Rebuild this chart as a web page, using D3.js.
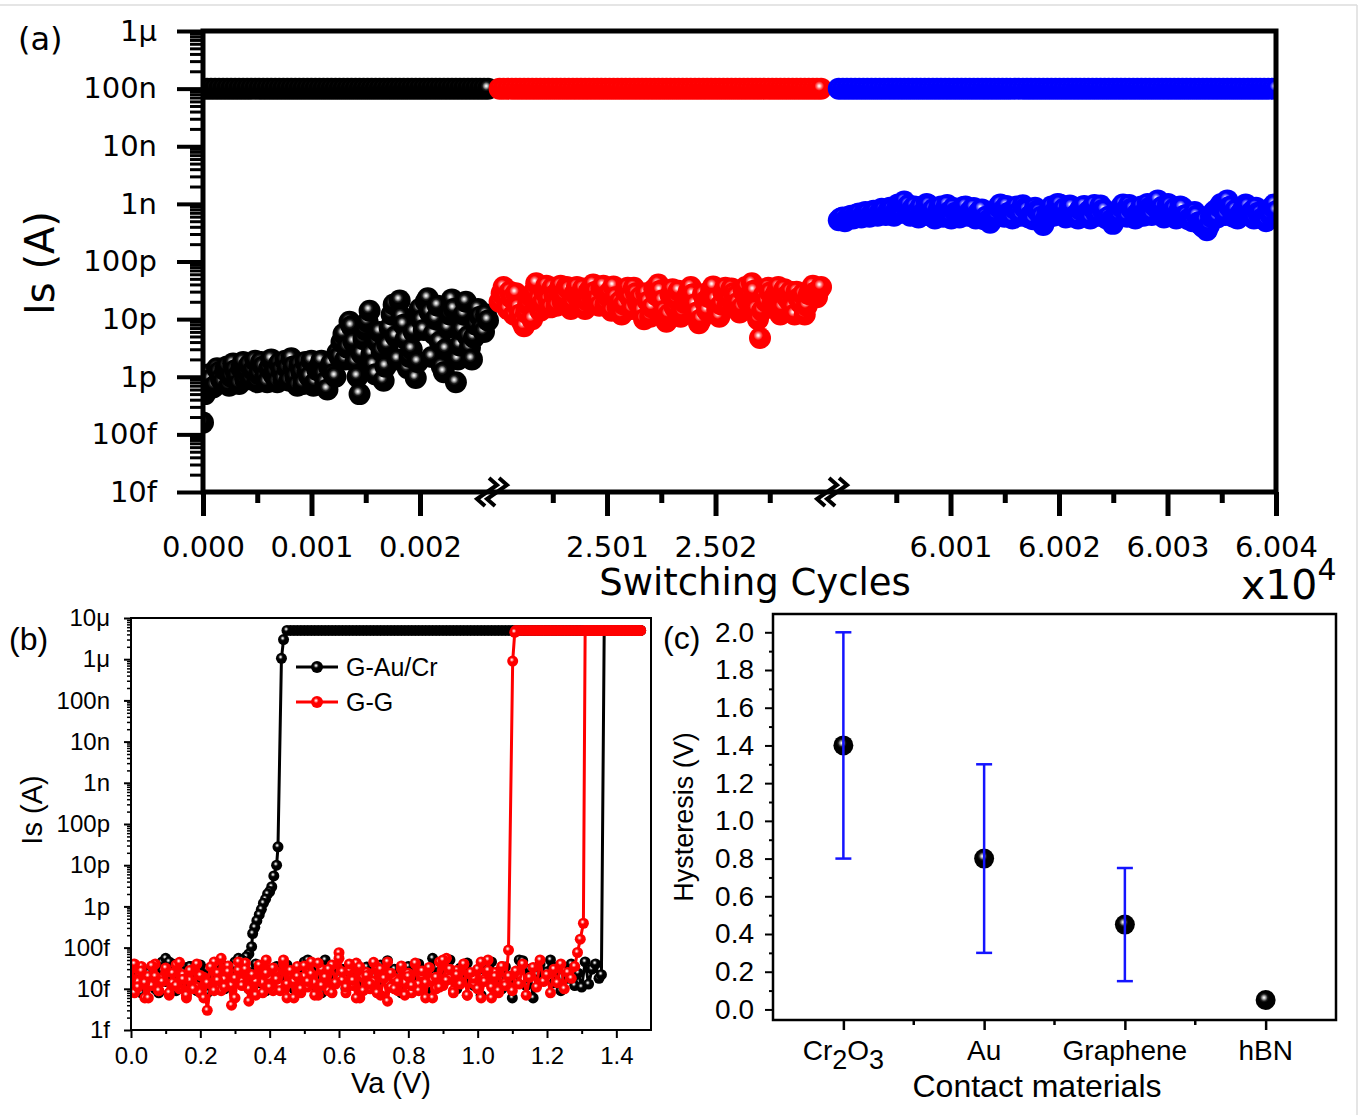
<!DOCTYPE html>
<html>
<head>
<meta charset="utf-8">
<script src="https://cdn.jsdelivr.net/npm/d3@7"></script>
<style>
  body { margin: 0; background: #fff; }
  svg { display: block; }
</style>
</head>
<body>
<svg id="fig" width="1369" height="1115"></svg>
<script>
// ---------------- (a) switching cycles, x in units of 1e4 cycles ----------------
const segDomains = [[0, 0.002664], [2.49994, 2.503074], [5.999908, 6.004]];
const segMajor = [[0, 0.001, 0.002], [2.501, 2.502], [6.001, 6.002, 6.003, 6.004]];
const segMinor = [[0.0005, 0.0015], [2.5005, 2.5015, 2.5025], [6.0005, 6.0015, 6.0025, 6.0035]];
const yTicksA = [1e-14, 1e-13, 1e-12, 1e-11, 1e-10, 1e-9, 1e-8, 1e-7, 1e-6];
const yLabelsA = ["10f", "100f", "1p", "10p", "100p", "1n", "10n", "100n", "1μ"];

// first reading and spacing of the ON / OFF readings in each segment
const cycStart = [0, 2.50001, 5.99997];
const onStep = [0.000037, 0.0000375, 0.0000377];
const offStep = [0.0000185, 0.00001875, 0.00001885];

// ON state (nA) and OFF state (pA) readings
const onBlack_nA = [
  100,100,100,100,100,100,100,100,100,100,100,100,100,100,100,100,100,100,100,100,
  100,100,100,100,100,100,100,100,100,100,100,100,100,100,100,100,100,100,100,100,
  100,100,100,100,100,100,100,100,100,100,100,100,100,100,100,100,100,100,100,100,
  100,100,100,100,100,100,100,100,100,100,100,100];
const offBlack_pA = [
  0.16, 0.5, 0.6, 1.1, 0.9, 0.65, 0.7, 1.4, 1.2, 0.9, 0.8, 1.3, 1.5, 0.7, 1.0, 1.7, 1.3, 1.0, 0.75, 1.4,
  1.8, 0.9, 1.2, 1.6, 0.9, 1.3, 1.9, 0.8, 1.1, 1.8, 1.5, 1.0, 0.8, 1.4, 2.0, 1.1, 1.2, 0.8, 1.7, 1.3,
  0.9, 1.9, 1.4, 0.85, 2.1, 1.5, 1.0, 0.7, 1.6, 1.2, 0.75, 1.8, 1.3, 1.0, 1.9, 0.7, 0.8, 1.3, 1.5, 1.9,
  1.1, 0.8, 0.6, 1.4, 1.7, 1.1, 1.0, 2.6, 2.2, 4.0, 5.5, 2.0, 3.2, 9.0, 7.5, 4.0, 1.8, 1.0, 0.5, 2.5,
  4.5, 6.5, 9.0, 14, 2.5, 1.6, 1.1, 4.0, 6.0, 2.8, 0.85, 1.5, 3.5, 7.0, 12, 18, 5.0, 2.0, 21, 11,
  8.0, 4.5, 1.4, 2.2, 3.0, 6.0, 0.95, 1.8, 15, 9.5, 6.5, 20, 23, 13, 2.2, 5.5, 10, 17, 4.0, 1.5,
  1.2, 3.0, 7.0, 12, 22, 15, 0.8, 2.0, 3.5, 6.5, 12, 20, 5.0, 3.2, 2.0, 4.8, 8.0, 15, 11, 7.0,
  6.0, 12, 9.5];

const onRed_nA = [
  100,100,100,100,100,100,100,100,100,100,100,100,100,100,100,100,100,100,100,100,
  100,100,100,100,100,100,100,100,100,100,100,100,100,100,100,100,100,100,100,100,
  100,100,100,100,100,100,100,100,100,100,100,100,100,100,100,100,100,100,100,100,
  100,100,100,100,100,100,100,100,100,100,100,100,100,100,100,100,100,100,100,100];
const offRed_pA = [
  20, 28, 36, 24, 15, 30, 23, 12, 28, 16, 12, 9, 7.5, 13, 18, 25, 10, 30, 42, 22,
  14, 19, 30, 38, 22, 16, 35, 26, 17, 31, 38, 20, 25, 36, 33, 15, 19, 28, 36, 22,
  27, 34, 15, 21, 31, 26, 40, 30, 22, 17, 34, 38, 18, 25, 29, 14, 37, 24, 16, 20,
  12, 18, 30, 35, 24, 15, 35, 28, 19, 24, 14, 10, 28, 20, 11, 16, 33, 26, 40, 31,
  21, 14, 9, 12, 26, 33, 16, 22, 31, 11, 13, 19, 24, 30, 36, 27, 18, 13, 8.5, 10,
  27, 20, 14, 24, 32, 37, 22, 15, 11, 18, 29, 35, 17, 23, 34, 28, 25, 19, 13, 16,
  30, 36, 20, 26, 42, 31, 15, 10, 4.7, 14, 26, 20, 35, 29, 18, 24, 28, 36, 12, 16,
  33, 25, 22, 30, 16, 12, 30, 23, 19, 27, 12, 17, 27, 33, 38, 29, 24, 32, 36];

const onBlue_nA = [
  100,100,100,100,100,100,100,100,100,100,100,100,100,100,100,100,100,100,100,100,
  100,100,100,100,100,100,100,100,100,100,100,100,100,100,100,100,100,100,100,100,
  100,100,100,100,100,100,100,100,100,100,100,100,100,100,100,100,100,100,100,100,
  100,100,100,100,100,100,100,100,100,100,100,100,100,100,100,100,100,100,100,100,
  100,100,100,100,100,100,100,100,100,100,100,100,100,100,100,100,100,100,100,100,
  100,100,100,100,100,100,100,100];
const offBlue_pA = [
  520, 560, 580, 500, 540, 600, 620, 560, 600, 660, 680, 580, 640, 720, 700, 600, 660, 760, 740, 620,
  700, 820, 780, 640, 720, 860, 800, 620, 750, 980, 900, 700, 1100, 850, 950, 620, 820, 900, 700, 580,
  880, 640, 760, 1000, 950, 620, 800, 560, 680, 840, 900, 600, 780, 960, 720, 560, 850, 700, 650, 580,
  780, 880, 900, 620, 720, 800, 850, 560, 680, 760, 800, 540, 600, 520, 470, 560, 700, 620, 880, 980,
  760, 600, 920, 700, 680, 560, 820, 900, 720, 620, 950, 840, 780, 580, 650, 540, 860, 760, 720, 600,
  430, 520, 680, 760, 900, 620, 760, 1000, 980, 700, 820, 580, 700, 940, 880, 600, 640, 560, 800, 880,
  920, 620, 740, 560, 860, 960, 680, 620, 940, 780, 780, 560, 600, 520, 450, 560, 700, 620, 880, 980,
  760, 600, 960, 820, 820, 560, 680, 740, 900, 620, 740, 1000, 860, 640, 960, 880, 1150, 700, 880, 580,
  760, 1000, 940, 640, 820, 560, 700, 900, 860, 620, 640, 540, 560, 500, 720, 620, 480, 440, 400, 520,
  350, 420, 600, 700, 760, 580, 880, 1000, 980, 640, 1150, 880, 900, 600, 780, 560, 650, 720, 820, 980,
  900, 620, 740, 560, 860, 700, 680, 560, 550, 500, 780, 640, 880, 980, 750];

// ---------------- (b) I-V sweeps, currents in fA ----------------
const yTicksB = [1e-15, 1e-14, 1e-13, 1e-12, 1e-11, 1e-10, 1e-9, 1e-8, 1e-7, 1e-6, 1e-5];
const yLabelsB = ["1f", "10f", "100f", "1p", "10p", "100p", "1n", "10n", "100n", "1μ", "10μ"];
const xTicksB = [0, 0.2, 0.4, 0.6, 0.8, 1.0, 1.2, 1.4];
const xMinorB = [0.1, 0.3, 0.5, 0.7, 0.9, 1.1, 1.3];

// G-Au/Cr
const gauFwdNoise = [ // V = 0.00 .. 1.35
  25,12,30,8,20,15,35,10,22,45, 55,18,40,9,28,14,33,35,12,24,
  16,30,8,22,38,11,26,14,32,20, 45,55,18,30,10,25,40,14,20,9,
  28,15,35,12,22,38,18,10,30,16, 45,50,20,12,32,8,50,24,14,36,
  18,30,10,26,15,40,9,22,34,12, 20,14,38,25,48,11,30,16,8,28,
  35,12,22,40,15,9,30,55,18,26, 14,38,50,20,10,32,16,42,24,12,
  28,7,36,18,45,14,26,10,34,20, 6,15,50,48,12,30,6,22,40,16,
  26,50,14,34,9,28,18,40,12,24, 11,45,13,30,40,18];
const gauFwdSwitch = [[1.357, 22], [1.365, 5e9]];
const gauFwdOn = [5e9,5e9,5e9,5e9,5e9,5e9,5e9,5e9,5e9,5e9,5e9]; // V = 1.37 .. 1.47
const gauRevOn = [ // V = 1.47 .. 0.45
  5e9,5e9,5e9,5e9,5e9,5e9,5e9,5e9,5e9,5e9, 5e9,5e9,5e9,5e9,5e9,5e9,5e9,5e9,5e9,5e9,
  5e9,5e9,5e9,5e9,5e9,5e9,5e9,5e9,5e9,5e9, 5e9,5e9,5e9,5e9,5e9,5e9,5e9,5e9,5e9,5e9,
  5e9,5e9,5e9,5e9,5e9,5e9,5e9,5e9,5e9,5e9, 5e9,5e9,5e9,5e9,5e9,5e9,5e9,5e9,5e9,5e9,
  5e9,5e9,5e9,5e9,5e9,5e9,5e9,5e9,5e9,5e9, 5e9,5e9,5e9,5e9,5e9,5e9,5e9,5e9,5e9,5e9,
  5e9,5e9,5e9,5e9,5e9,5e9,5e9,5e9,5e9,5e9, 5e9,5e9,5e9,5e9,5e9,5e9,5e9,5e9,5e9,5e9,
  5e9,5e9,5e9];
const gauRevSwitch = [[0.44, 3.0e9], [0.434, 1.05e9], [0.424, 2.8e4], [0.42, 1.0e4], [0.412, 5.5e3],
  [0.406, 3.0e3], [0.4, 2.3e3], [0.394, 2.0e3], [0.388, 1.5e3], [0.382, 1.2e3], [0.376, 850],
  [0.37, 630], [0.363, 450], [0.357, 310], [0.351, 220], [0.348, 105], [0.34, 70], [0.333, 60]];
const gauRevNoise = [ // V = 0.32 .. 0.00
  50,20,35,14,28,10,40,18,25,12, 30,16,38,9,22,35,14,26,11,32, 20,45,15,28,8,36,18,24,12,30, 22,35,16];

// G-G
const ggFwdNoise = [ // V = 0.00 .. 1.28
  30,8,15,35,6,20,12,40,9,18, 25,7,14,38,10,22,6,16,30,11,
  8,19,3,13,45,24,9,17,36,12, 6,28,15,42,10,20,7,33,14,50,
  18,9,26,12,40,6,22,15,35,8, 20,11,45,14,7,30,17,9,38,13,
  75,16,8,28,12,42,6,19,25,10, 15,33,7,21,45,11,18,9,30,14,
  24,8,40,13,20,6,32,16,10,45, 12,55,18,9,28,15,40,7,22,13,
  30,6,17,50,11,25,8,35,14,20, 9,27,13,40,7,19,33,11,50,15,
  22,8,30,14,40,10,25,18,35];
const ggFwdSwitch = [[1.288, 76], [1.296, 160], [1.305, 390], [1.31, 5e9]];
const ggFwdOn = [5e9,5e9,5e9,5e9,5e9,5e9,5e9,5e9,5e9,5e9,5e9,5e9,5e9,5e9,5e9,5e9]; // V = 1.32 .. 1.47
const ggRevOn = [ // V = 1.47 .. 1.11
  5e9,5e9,5e9,5e9,5e9,5e9,5e9,5e9,5e9,5e9, 5e9,5e9,5e9,5e9,5e9,5e9,5e9,5e9,5e9,5e9,
  5e9,5e9,5e9,5e9,5e9,5e9,5e9,5e9,5e9,5e9, 5e9,5e9,5e9,5e9,5e9,5e9,5e9];
const ggRevSwitch = [[1.107, 4.5e9], [1.101, 9e8], [1.089, 87]];
const ggRevNoise = [ // V = 1.08 .. 0.00
  12,35,9,20,6,28,15,45,10,18, 25,7,40,13,22,8,30,16,50,11,
  19,6,33,14,27,9,42,12,20,7, 36,15,10,24,5,18,30,8,44,13,
  21,9,34,6,16,40,11,26,55,14, 8,30,19,12,42,7,23,15,36,10,
  20,6,28,13,50,9,17,32,11,24, 8,38,15,22,5,30,12,45,18,4,
  26,11,55,16,9,34,14,6,21,40, 10,28,7,17,44,12,24,8,32,15,
  9,20,36,6,14,27,11,40,18];

// ---------------- (c) hysteresis by contact material ----------------
const materials = ["Cr2O3", "Au", "Graphene", "hBN"];
const hysteresis = [1.40, 0.80, 0.45, 0.05];
const hystLow = [0.80, 0.30, 0.15, null];
const hystHigh = [2.00, 1.30, 0.75, null];
const yTicksC = [0, 0.2, 0.4, 0.6, 0.8, 1.0, 1.2, 1.4, 1.6, 1.8, 2.0];
const yMinorC = [0.1, 0.3, 0.5, 0.7, 0.9, 1.1, 1.3, 1.5, 1.7, 1.9];

// ---------------- drawing ----------------
const svg = d3.select("#fig");
const defs = svg.append("defs");
const fontA = "DejaVu Sans, Verdana, sans-serif";
const fontB = "Liberation Sans, Arial, sans-serif";

// shaded ball markers
const balls = {
  ballK: [[0, "#ffffff"], [0.07, "#e0e0e0"], [0.18, "#8a8a8a"], [0.3, "#1c1c1c"], [0.42, "#000000"], [1, "#000000"]],
  ballR: [[0, "#ffffff"], [0.08, "#ffdada"], [0.2, "#ff7070"], [0.36, "#ff0000"], [1, "#ff0000"]],
  ballB: [[0, "#ffffff"], [0.08, "#dcdcff"], [0.2, "#7070ff"], [0.36, "#0000ff"], [1, "#0000ff"]]
};
Object.entries(balls).forEach(([id, stops]) => {
  const g = defs.append("radialGradient").attr("id", id)
    .attr("cx", 0.42).attr("cy", 0.38).attr("r", 0.6).attr("fx", 0.42).attr("fy", 0.38);
  stops.forEach(([o, c]) => g.append("stop").attr("offset", o).attr("stop-color", c));
});

function styleAxis(g, font, size, sw) {
  g.select(".domain").remove();
  g.attr("font-family", font).attr("font-size", size);
  g.selectAll(".tick line").attr("stroke", "#000").attr("stroke-width", sw);
  g.selectAll(".tick text").attr("fill", "#000");
}

// faint figure border
svg.append("line").attr("x1", 0).attr("x2", 1357).attr("y1", 5).attr("y2", 5)
  .attr("stroke", "#dcdcdc").attr("stroke-width", 1.5);
svg.append("line").attr("x1", 1357).attr("x2", 1357).attr("y1", 5).attr("y2", 1115)
  .attr("stroke", "#dcdcdc").attr("stroke-width", 1.5);

// ===== panel (a) =====
const A = { left: 203, right: 1276, top: 31, bottom: 492 };
const totalW = d3.sum(segDomains, d => d[1] - d[0]);
let acc = 0;
const xSegs = segDomains.map(d => {
  const x0 = A.left + acc / totalW * (A.right - A.left);
  acc += d[1] - d[0];
  const x1 = A.left + acc / totalW * (A.right - A.left);
  return d3.scaleLinear().domain(d).range([x0, x1]);
});
const yA = d3.scaleLog().domain([1e-14, 1e-6]).range([A.bottom, A.top]);

defs.append("clipPath").attr("id", "clipA").append("rect")
  .attr("x", A.left).attr("y", A.top).attr("width", A.right - A.left).attr("height", A.bottom - A.top);

const gA = svg.append("g");
const plotA = gA.append("g").attr("clip-path", "url(#clipA)");
const seriesA = [
  { k: 0, fill: "url(#ballK)", on: onBlack_nA, off: offBlack_pA },
  { k: 1, fill: "url(#ballR)", on: onRed_nA, off: offRed_pA },
  { k: 2, fill: "url(#ballB)", on: onBlue_nA, off: offBlue_pA }
];
seriesA.forEach(s => {
  const sx = xSegs[s.k];
  const g = plotA.append("g");
  g.selectAll("circle.on").data(s.on).join("circle").attr("class", "on")
    .attr("cx", (d, i) => sx(cycStart[s.k] + i * onStep[s.k])).attr("cy", d => yA(d * 1e-9))
    .attr("r", 11).attr("fill", s.fill);
  g.selectAll("circle.off").data(s.off).join("circle").attr("class", "off")
    .attr("cx", (d, i) => sx(cycStart[s.k] + i * offStep[s.k])).attr("cy", d => yA(d * 1e-12))
    .attr("r", 11).attr("fill", s.fill);
});

gA.append("rect").attr("x", A.left).attr("y", A.top)
  .attr("width", A.right - A.left).attr("height", A.bottom - A.top)
  .attr("fill", "none").attr("stroke", "#000").attr("stroke-width", 5);

const yMinorA = [];
yTicksA.slice(0, -1).forEach(t => { for (let m = 2; m <= 9; m++) yMinorA.push(t * m); });
gA.append("g").attr("transform", `translate(${A.left},0)`)
  .call(d3.axisLeft(yA).tickValues(yMinorA).tickFormat("").tickSize(13))
  .call(g => styleAxis(g, fontA, 29, 3));
gA.append("g").attr("transform", `translate(${A.left},0)`)
  .call(d3.axisLeft(yA).tickValues(yTicksA).tickFormat((d, i) => yLabelsA[i]).tickSize(26).tickPadding(20))
  .call(g => styleAxis(g, fontA, 29, 4));

xSegs.forEach((sc, k) => {
  gA.append("g").attr("transform", `translate(0,${A.bottom})`)
    .call(d3.axisBottom(sc).tickValues(segMinor[k]).tickFormat("").tickSize(11))
    .call(g => styleAxis(g, fontA, 29, 5));
  gA.append("g").attr("transform", `translate(0,${A.bottom})`)
    .call(d3.axisBottom(sc).tickValues(segMajor[k]).tickFormat(d3.format(".3f")).tickSize(24).tickPadding(20))
    .call(g => styleAxis(g, fontA, 29, 5));
});

// axis break marks
xSegs.slice(1).forEach(sc => {
  const bx = sc.range()[0];
  [-5, 5].forEach(off => {
    gA.append("path")
      .attr("d", d3.line()([[off + 2, -14], [off + 10, -7], [off, 0], [off - 10, 7], [off - 2, 14]]))
      .attr("transform", `translate(${bx},${A.bottom})`)
      .attr("fill", "none").attr("stroke", "#000").attr("stroke-width", 4);
  });
});

gA.append("text").attr("x", 18).attr("y", 50).attr("font-family", fontA).attr("font-size", 32).text("(a)");
gA.append("text").attr("transform", "translate(54,263) rotate(-90)").attr("text-anchor", "middle")
  .attr("font-family", fontA).attr("font-size", 40).text("Is (A)");
gA.append("text").attr("x", 755).attr("y", 595).attr("text-anchor", "middle")
  .attr("font-family", fontA).attr("font-size", 37).text("Switching Cycles");
const exp = gA.append("text").attr("x", 1241).attr("y", 599).attr("font-family", fontA).attr("font-size", 41);
exp.append("tspan").text("x10");
exp.append("tspan").attr("dy", -19).attr("font-size", 30).text("4");

// ===== panel (b) =====
const B = { left: 131, right: 651, top: 618, bottom: 1030 };
const xB = d3.scaleLinear().domain([0, 1.5]).range([B.left, B.right]);
const yB = d3.scaleLog().domain([1e-15, 1e-5]).range([B.bottom, B.top]);
defs.append("clipPath").attr("id", "clipB").append("rect")
  .attr("x", B.left).attr("y", B.top).attr("width", B.right - B.left).attr("height", B.bottom - B.top);

const grid = (v0, dv, vals) => vals.map((fA, i) => [v0 + i * dv, fA]);
const curveGAu = [
  ...grid(0, 0.01, gauFwdNoise), ...gauFwdSwitch, ...grid(1.37, 0.01, gauFwdOn),
  ...grid(1.47, -0.01, gauRevOn), ...gauRevSwitch, ...grid(0.32, -0.01, gauRevNoise)
];
const curveGG = [
  ...grid(0, 0.01, ggFwdNoise), ...ggFwdSwitch, ...grid(1.32, 0.01, ggFwdOn),
  ...grid(1.47, -0.01, ggRevOn), ...ggRevSwitch, ...grid(1.08, -0.01, ggRevNoise)
];

const gB = svg.append("g");
const plotB = gB.append("g").attr("clip-path", "url(#clipB)");
const lineB = d3.line().x(d => xB(d[0])).y(d => yB(d[1] * 1e-15));
[[curveGAu, "#000", "url(#ballK)"], [curveGG, "#ff0000", "url(#ballR)"]].forEach(([pts, col, fill]) => {
  plotB.append("path").attr("d", lineB(pts)).attr("fill", "none").attr("stroke", col)
    .attr("stroke-width", 3).attr("stroke-linejoin", "round");
  plotB.append("g").selectAll("circle").data(pts).join("circle")
    .attr("cx", d => xB(d[0])).attr("cy", d => yB(d[1] * 1e-15)).attr("r", 5.5).attr("fill", fill);
});

gB.append("rect").attr("x", B.left).attr("y", B.top)
  .attr("width", B.right - B.left).attr("height", B.bottom - B.top)
  .attr("fill", "none").attr("stroke", "#000").attr("stroke-width", 2);

const yMinorB = [];
yTicksB.slice(0, -1).forEach(t => { for (let m = 2; m <= 9; m++) yMinorB.push(t * m); });
gB.append("g").attr("transform", `translate(${B.left},0)`)
  .call(d3.axisLeft(yB).tickValues(yMinorB).tickFormat("").tickSize(4))
  .call(g => styleAxis(g, fontB, 24, 1.5));
gB.append("g").attr("transform", `translate(${B.left},0)`)
  .call(d3.axisLeft(yB).tickValues(yTicksB).tickFormat((d, i) => yLabelsB[i]).tickSize(7).tickPadding(14))
  .call(g => styleAxis(g, fontB, 24, 2));
gB.append("g").attr("transform", `translate(0,${B.bottom})`)
  .call(d3.axisBottom(xB).tickValues(xMinorB).tickFormat("").tickSize(4))
  .call(g => styleAxis(g, fontB, 24, 2));
gB.append("g").attr("transform", `translate(0,${B.bottom})`)
  .call(d3.axisBottom(xB).tickValues(xTicksB).tickFormat(d3.format(".1f")).tickSize(8).tickPadding(9))
  .call(g => styleAxis(g, fontB, 24, 2));

// legend
[["G-Au/Cr", "#000", "url(#ballK)", 667], ["G-G", "#ff0000", "url(#ballR)", 702]].forEach(([name, col, fill, ly]) => {
  gB.append("line").attr("x1", 296).attr("x2", 338).attr("y1", ly).attr("y2", ly)
    .attr("stroke", col).attr("stroke-width", 3);
  gB.append("circle").attr("cx", 317).attr("cy", ly).attr("r", 6).attr("fill", fill);
  gB.append("text").attr("x", 346).attr("y", ly + 9).attr("font-family", fontB).attr("font-size", 25).text(name);
});

gB.append("text").attr("x", 9).attr("y", 650).attr("font-family", fontB).attr("font-size", 32).text("(b)");
gB.append("text").attr("transform", "translate(42,810) rotate(-90)").attr("text-anchor", "middle")
  .attr("font-family", fontB).attr("font-size", 29).text("Is (A)");
gB.append("text").attr("x", 391).attr("y", 1093).attr("text-anchor", "middle")
  .attr("font-family", fontB).attr("font-size", 29).text("Va (V)");

// ===== panel (c) =====
const C = { left: 773, right: 1336, top: 614, bottom: 1020 };
const xC = d3.scalePoint().domain(materials).range([C.left, C.right]).padding(0.5);
const yC = d3.scaleLinear().domain([-0.056, 2.097]).range([C.bottom, C.top]);
const gC = svg.append("g");

gC.append("rect").attr("x", C.left).attr("y", C.top)
  .attr("width", C.right - C.left).attr("height", C.bottom - C.top)
  .attr("fill", "none").attr("stroke", "#000").attr("stroke-width", 2.5);

gC.append("g").attr("transform", `translate(${C.left},0)`)
  .call(d3.axisLeft(yC).tickValues(yMinorC).tickFormat("").tickSize(4))
  .call(g => styleAxis(g, fontB, 28, 2));
gC.append("g").attr("transform", `translate(${C.left},0)`)
  .call(d3.axisLeft(yC).tickValues(yTicksC).tickFormat(d3.format(".1f")).tickSize(8).tickPadding(11))
  .call(g => styleAxis(g, fontB, 28, 2));
gC.append("g").attr("transform", `translate(0,${C.bottom})`)
  .call(d3.axisBottom(xC).tickFormat("").tickSize(10))
  .call(g => styleAxis(g, fontB, 28, 2.5));
d3.pairs(materials).forEach(([a, b]) => {
  const mx = (xC(a) + xC(b)) / 2;
  gC.append("line").attr("x1", mx).attr("x2", mx).attr("y1", C.bottom).attr("y2", C.bottom + 5)
    .attr("stroke", "#000").attr("stroke-width", 2.5);
});

// category labels with chemical subscripts
materials.forEach(m => {
  const t = gC.append("text").attr("x", xC(m)).attr("y", 1060).attr("text-anchor", "middle")
    .attr("font-family", fontB).attr("font-size", 28);
  let low = false;
  m.split(/(\d+)/).filter(s => s).forEach(part => {
    const isSub = /^\d+$/.test(part);
    const ts = t.append("tspan").text(part);
    if (isSub && !low) { ts.attr("dy", 9).attr("font-size", 27); low = true; }
    else if (isSub) { ts.attr("font-size", 27); }
    else if (low) { ts.attr("dy", -9); low = false; }
  });
});

gC.selectAll("circle.pt").data(materials).join("circle").attr("class", "pt")
  .attr("cx", d => xC(d)).attr("cy", (d, i) => yC(hysteresis[i])).attr("r", 10).attr("fill", "url(#ballK)");

const errs = materials.map((m, i) => ({ m, lo: hystLow[i], hi: hystHigh[i] })).filter(d => d.lo != null);
const eg = gC.append("g").attr("stroke", "#1414ff").attr("stroke-width", 2.5);
errs.forEach(d => {
  const x = xC(d.m);
  eg.append("line").attr("x1", x).attr("x2", x).attr("y1", yC(d.lo)).attr("y2", yC(d.hi));
  eg.append("line").attr("x1", x - 8).attr("x2", x + 8).attr("y1", yC(d.lo)).attr("y2", yC(d.lo));
  eg.append("line").attr("x1", x - 8).attr("x2", x + 8).attr("y1", yC(d.hi)).attr("y2", yC(d.hi));
});

gC.append("text").attr("x", 663).attr("y", 649).attr("font-family", fontB).attr("font-size", 32).text("(c)");
gC.append("text").attr("transform", "translate(693,817) rotate(-90)").attr("text-anchor", "middle")
  .attr("font-family", fontB).attr("font-size", 27).text("Hysteresis (V)");
gC.append("text").attr("x", 1037).attr("y", 1097).attr("text-anchor", "middle")
  .attr("font-family", fontB).attr("font-size", 32).text("Contact materials");
</script>
</body>
</html>
